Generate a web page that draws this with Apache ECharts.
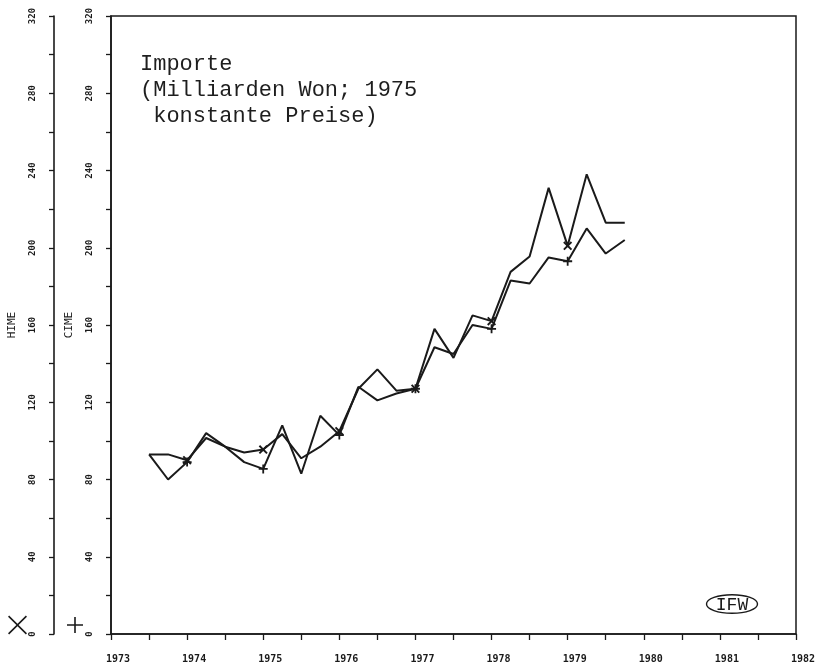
<!DOCTYPE html>
<html>
<head>
<meta charset="utf-8">
<script src="https://cdn.jsdelivr.net/npm/echarts@6/dist/echarts.min.js"></script>
<style>
  html, body { margin: 0; padding: 0; background: #fff; }
  #main { width: 823px; height: 671px; }
</style>
</head>
<body>
<div id="main"></div>
<script>
// quarterly observations, 1973 Q3 .. 1979 Q4
const quarters = [1973.5, 1973.75, 1974, 1974.25, 1974.5, 1974.75, 1975, 1975.25, 1975.5, 1975.75,
  1976, 1976.25, 1976.5, 1976.75, 1977, 1977.25, 1977.5, 1977.75, 1978, 1978.25,
  1978.5, 1978.75, 1979, 1979.25, 1979.5, 1979.75];
const hime = [93, 93, 90, 101.5, 97, 94, 95.5, 103.5, 91, 97,
  105, 127, 137, 126, 127, 158, 143, 165, 162, 187.5,
  195.5, 231, 201, 238, 213, 213];
const cime = [93, 80, 89, 104, 97, 89, 85.5, 108, 83, 113,
  103, 128, 121, 124.5, 127, 148.5, 145, 160, 158, 183,
  181.5, 195, 193, 210, 197, 204];
const xTickLabels = ['1973', '1974', '1975', '1976', '1977', '1978', '1979', '1980', '1981', '1982'];
const yTickLabels = ['0', '40', '80', '120', '160', '200', '240', '280', '320'];

const ink = '#1a1a1a';
const crossMark = 'path://M0,1.5 L1.5,0 L5,3.5 L8.5,0 L10,1.5 L6.5,5 L10,8.5 L8.5,10 L5,6.5 L1.5,10 L0,8.5 L3.5,5 Z';
const plusMark = 'path://M4,0 H6 V4 H10 V6 H6 V10 H4 V6 H0 V4 H4 Z';
const crossIcon = 'path://M0,0.6 L0.6,0 L5,4.4 L9.4,0 L10,0.6 L5.6,5 L10,9.4 L9.4,10 L5,5.6 L0.6,10 L0,9.4 L4.4,5 Z';
const plusIcon = 'path://M4.5,0 H5.5 V4.5 H10 V5.5 H5.5 V10 H4.5 V5.5 H0 V4.5 H4.5 Z';

const tickFont = { fontFamily: 'DejaVu Sans Mono', fontWeight: 'bold', color: ink };

function yAxisOf(name, offset) {
  return {
    type: 'value', name: name, position: 'left', offset: offset,
    min: 0, max: 320, interval: 40,
    nameLocation: 'middle', nameRotate: 90, nameGap: 36,
    nameTextStyle: { fontFamily: 'DejaVu Sans Mono', fontSize: 11, color: ink },
    axisLine: { show: true, lineStyle: { color: ink, width: 1.6 } },
    axisTick: { show: true, length: 5, lineStyle: { color: ink, width: 1.3 } },
    minorTick: { show: true, splitNumber: 2, length: 5, lineStyle: { color: ink, width: 1.3 } },
    splitLine: { show: false },
    axisLabel: Object.assign({ rotate: 90, margin: 17, fontSize: 9,
      formatter: v => yTickLabels[v / 40] }, tickFont)
  };
}

function toPoints(vals) {
  return quarters.map((q, i) => [q, vals[i]]);
}

const chart = echarts.init(document.getElementById('main'));
chart.setOption({
  animation: false,
  backgroundColor: '#fff',
  title: {
    text: 'Importe\n(Milliarden Won; 1975\n konstante Preise)',
    left: 135, top: 46,
    textStyle: { fontFamily: 'Liberation Mono', fontSize: 22, fontWeight: 'normal', lineHeight: 26, color: '#1e1e1e' }
  },
  legend: [
    { data: [{ name: 'HIME', icon: crossIcon }], left: 8, top: 615, padding: 0, itemWidth: 19, itemHeight: 20,
      formatter: () => '', selectedMode: false, itemStyle: { borderWidth: 0 } },
    { data: [{ name: 'CIME', icon: plusIcon }], left: 67, top: 617, padding: 0, itemWidth: 16, itemHeight: 16,
      formatter: () => '', selectedMode: false, itemStyle: { borderWidth: 0 } }
  ],
  grid: { left: 111, right: 27, top: 16, bottom: 37, show: true, borderColor: ink, borderWidth: 1.5,
    containLabel: false, outerBoundsMode: 'none' },
  xAxis: {
    type: 'value', min: 1973, max: 1982, interval: 1,
    axisLine: { show: true, lineStyle: { color: ink, width: 1.6 } },
    axisTick: { show: true, length: 6, lineStyle: { color: ink, width: 1.3 } },
    minorTick: { show: true, splitNumber: 2, length: 6, lineStyle: { color: ink, width: 1.3 } },
    splitLine: { show: false },
    axisLabel: Object.assign({ fontSize: 10, margin: 20, padding: [0, 0, 0, 14],
      formatter: v => xTickLabels[Math.round(v - 1973)] }, tickFont)
  },
  yAxis: [yAxisOf('CIME', 0), yAxisOf('HIME', 57)],
  series: [
    {
      name: 'HIME', type: 'line', yAxisIndex: 1, data: toPoints(hime),
      symbol: v => Number.isInteger(v[0]) ? crossMark : 'none', symbolSize: 9,
      lineStyle: { color: ink, width: 2 }, itemStyle: { color: ink, borderWidth: 0 },
      emphasis: { disabled: true }
    },
    {
      name: 'CIME', type: 'line', yAxisIndex: 0, data: toPoints(cime),
      symbol: v => Number.isInteger(v[0]) ? plusMark : 'none', symbolSize: 9,
      lineStyle: { color: ink, width: 2 }, itemStyle: { color: ink, borderWidth: 0 },
      emphasis: { disabled: true }
    }
  ],
  graphic: [
    { type: 'ellipse', shape: { cx: 732, cy: 604, rx: 25.5, ry: 9.3 },
      style: { fill: 'none', stroke: ink, lineWidth: 1.4 } },
    { type: 'text', x: 732, y: 605,
      style: { text: 'IFW', font: '18px "Liberation Mono"', fill: ink,
        align: 'center', verticalAlign: 'middle', textAlign: 'center', textVerticalAlign: 'middle' } }
  ]
});
</script>
</body>
</html>
